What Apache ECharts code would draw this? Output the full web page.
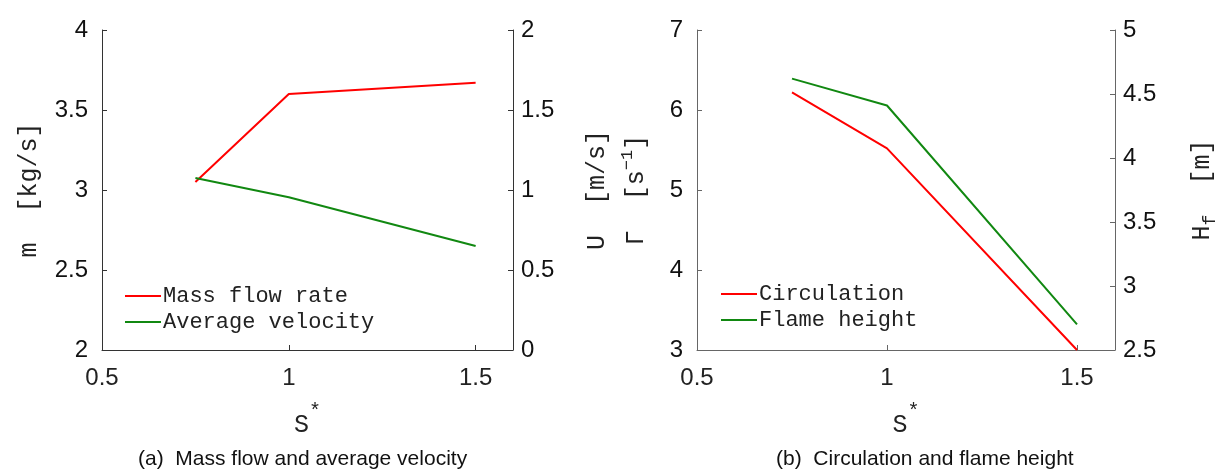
<!DOCTYPE html>
<html>
<head>
<meta charset="utf-8">
<script src="https://cdn.jsdelivr.net/npm/echarts@6/dist/echarts.min.js"></script>
<style>
  html, body { margin: 0; padding: 0; background: #fff; }
  #chart { width: 1220px; height: 472px; }
</style>
</head>
<body>
<div id="chart"></div>
<script>
// swirl number S*
const swirl = [0.75, 1, 1.5];
// (a)
const massFlow = [3.05, 3.6, 3.67];      // kg/s
const avgVelocity = [1.075, 0.955, 0.65]; // m/s
// (b)
const circulation = [6.22, 5.52, 3.0];   // 1/s
const flameHeight = [4.62, 4.41, 2.7];   // m

const captions = ['(a)  Mass flow and average velocity', '(b)  Circulation and flame height'];

const sans = 'Liberation Sans';
const mono = 'Liberation Mono, DejaVu Sans Mono';

function pairs(xs, ys) {
  return xs.map((x, i) => [x, ys[i]]);
}

function xAxis(grid, color) {
  return {
    type: 'value', gridIndex: grid, min: 0.5, max: 1.6, interval: 0.5,
    name: '{s|S}{sup|*}', nameLocation: 'middle', nameGap: 52,
    nameTextStyle: {
      rich: {
        s: { fontFamily: mono, fontSize: 25, color: '#222', lineHeight: 36, verticalAlign: 'bottom' },
        sup: { fontFamily: mono, fontSize: 20, color: '#222', verticalAlign: 'top', lineHeight: 36 }
      }
    },
    axisLine: { show: true, lineStyle: { color: color, width: 1 } },
    axisTick: { show: true, inside: true, length: 5, lineStyle: { color: color } },
    axisLabel: { fontFamily: sans, fontSize: 24, color: '#222', margin: 16, showMaxLabel: false },
    splitLine: { show: false }
  };
}

function yAxis(grid, pos, min, max, step, name, gap, color, rich) {
  return {
    type: 'value', gridIndex: grid, position: pos, min: min, max: max, interval: step,
    name: name, nameLocation: 'middle', nameGap: gap, nameRotate: 90,
    nameTextStyle: { fontFamily: mono, fontSize: 25, color: '#222', rich: rich },
    axisLine: { show: true, onZero: false, lineStyle: { color: color, width: 1 } },
    axisTick: { show: true, inside: true, length: 5, lineStyle: { color: color } },
    axisLabel: { fontFamily: sans, fontSize: 24, color: '#111', margin: pos === 'left' ? 14 : 8 },
    splitLine: { show: false }
  };
}

function line(name, xi, yi, data, color) {
  return {
    name: name, type: 'line', xAxisIndex: xi, yAxisIndex: yi,
    data: data, showSymbol: false, symbol: 'none',
    lineStyle: { color: color, width: 2 }, itemStyle: { color: color },
    animation: false
  };
}

const red = '#ff0000';
const green = '#118811';

const chart = echarts.init(document.getElementById('chart'));
chart.setOption({
  backgroundColor: '#fff',
  animation: false,
  grid: [
    { left: 102, right: 707, top: 30, bottom: 122 },
    { left: 697, right: 105, top: 30, bottom: 122 }
  ],
  legend: [
    {
      data: ['Mass flow rate', 'Average velocity'], orient: 'vertical', left: 120, top: 280,
      icon: 'rect', itemWidth: 36, itemHeight: 2, itemGap: 4,
      textStyle: { fontFamily: mono, fontSize: 22, color: '#222', padding: [0, 0, 0, -3] }
    },
    {
      data: ['Circulation', 'Flame height'], orient: 'vertical', left: 716, top: 278,
      icon: 'rect', itemWidth: 36, itemHeight: 2, itemGap: 4,
      textStyle: { fontFamily: mono, fontSize: 22, color: '#222', padding: [0, 0, 0, -3] }
    }
  ],
  xAxis: [xAxis(0, '#333'), xAxis(1, '#666')],
  yAxis: [
    yAxis(0, 'left', 2, 4, 0.5, 'm  [kg/s]', 60, '#333'),
    yAxis(0, 'right', 0, 2, 0.5, 'U  [m/s]', 72, '#333'),
    yAxis(1, 'left', 3, 7, 1, '{t|Γ  [s}{sup|−1}{t|]}', 44, '#666', {
      t: { fontFamily: mono, fontSize: 25, color: '#222', lineHeight: 34 },
      sup: { fontFamily: mono, fontSize: 17, color: '#222', verticalAlign: 'top', lineHeight: 34 }
    }),
    yAxis(1, 'right', 2.5, 5, 0.5, '{t|H}{sub|f}{t|  [m]}', 70, '#666', {
      t: { fontFamily: mono, fontSize: 25, color: '#222', lineHeight: 34 },
      sub: { fontFamily: mono, fontSize: 18, color: '#222', verticalAlign: 'bottom', lineHeight: 34 }
    })
  ],
  series: [
    line('Mass flow rate', 0, 0, pairs(swirl, massFlow), red),
    line('Average velocity', 0, 1, pairs(swirl, avgVelocity), green),
    line('Circulation', 1, 2, pairs(swirl, circulation), red),
    line('Flame height', 1, 3, pairs(swirl, flameHeight), green)
  ],
  graphic: [
    { type: 'text', left: 138, top: 449, style: { text: captions[0], fontFamily: sans, fontSize: 21, fill: '#111' } },
    { type: 'text', left: 776, top: 449, style: { text: captions[1], fontFamily: sans, fontSize: 21, fill: '#111' } }
  ]
});
</script>
</body>
</html>
